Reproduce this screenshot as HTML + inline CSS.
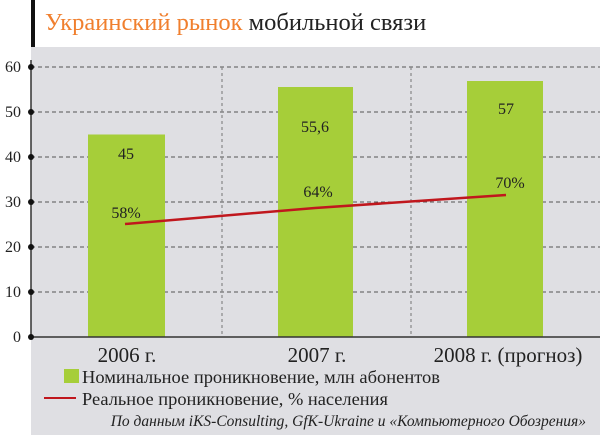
<!DOCTYPE html>
<html><head><meta charset="utf-8"><style>
html,body{margin:0;padding:0;background:#fff;}
body{width:600px;height:435px;overflow:hidden;}
</style></head><body>
<svg width="600" height="435" xmlns="http://www.w3.org/2000/svg" font-family="'Liberation Serif', serif">
<rect x="0" y="0" width="600" height="435" fill="#fff"/>
<rect x="31" y="47" width="569" height="388" fill="#dfdfe3"/>
<rect x="31" y="0" width="4" height="47" fill="#111"/>
<text x="45" y="30" font-size="24.5"><tspan fill="#f07f2e">Украинский рынок</tspan><tspan fill="#222"> мобильной связи</tspan></text>
<g stroke="#555" stroke-width="1" stroke-dasharray="4,3">
<line x1="31" y1="67" x2="600" y2="67"/>
<line x1="31" y1="112" x2="600" y2="112"/>
<line x1="31" y1="157" x2="600" y2="157"/>
<line x1="31" y1="202" x2="600" y2="202"/>
<line x1="31" y1="247" x2="600" y2="247"/>
<line x1="31" y1="292" x2="600" y2="292"/>
</g>
<g stroke="#888" stroke-width="1.2" stroke-dasharray="3,3">
<line x1="222" y1="67" x2="222" y2="337"/>
<line x1="411" y1="67" x2="411" y2="337"/>
</g>
<rect x="88" y="134.5" width="77" height="202.5" fill="#a6ce39"/>
<rect x="278" y="87" width="75" height="250" fill="#a6ce39"/>
<rect x="467" y="81" width="76" height="256" fill="#a6ce39"/>
<line x1="31" y1="60" x2="31" y2="337" stroke="#333" stroke-width="1.5"/>
<line x1="31" y1="337" x2="600" y2="337" stroke="#333" stroke-width="1.5"/>
<g fill="#111">
<circle cx="31" cy="67" r="3"/><circle cx="31" cy="112" r="3"/><circle cx="31" cy="157" r="3"/><circle cx="31" cy="202" r="3"/><circle cx="31" cy="247" r="3"/><circle cx="31" cy="292" r="3"/><circle cx="31" cy="337" r="3"/>
</g>
<g font-size="16" fill="#222" text-anchor="end">
<text x="21" y="72">60</text><text x="21" y="117">50</text><text x="21" y="162">40</text><text x="21" y="207">30</text><text x="21" y="252">20</text><text x="21" y="297">10</text><text x="21" y="342">0</text>
</g>
<polyline points="125,224 315,208 506,195" fill="none" stroke="#c0171d" stroke-width="2.5"/>
<g font-size="16" fill="#222" text-anchor="middle">
<text x="126" y="159">45</text>
<text x="315" y="132">55,6</text>
<text x="506" y="114">57</text>
<text x="126" y="218">58%</text>
<text x="318" y="197">64%</text>
<text x="510" y="188">70%</text>
</g>
<g font-size="21" fill="#222" text-anchor="middle">
<text x="127" y="362">2006 г.</text>
<text x="317" y="362">2007 г.</text>
<text x="508" y="362">2008 г. (прогноз)</text>
</g>
<rect x="64" y="369" width="15" height="14" fill="#a6ce39"/>
<text x="82" y="383" font-size="18.4" fill="#222" textLength="358" lengthAdjust="spacingAndGlyphs">Номинальное проникновение, млн абонентов</text>
<line x1="44" y1="398" x2="76" y2="398" stroke="#c0171d" stroke-width="2"/>
<text x="82" y="405" font-size="18.4" fill="#222">Реальное проникновение, % населения</text>
<text x="586" y="426" font-size="15.5" font-style="italic" fill="#222" text-anchor="end">По данным iKS-Consulting, GfK-Ukraine и «Компьютерного Обозрения»</text>
</svg>
</body></html>
